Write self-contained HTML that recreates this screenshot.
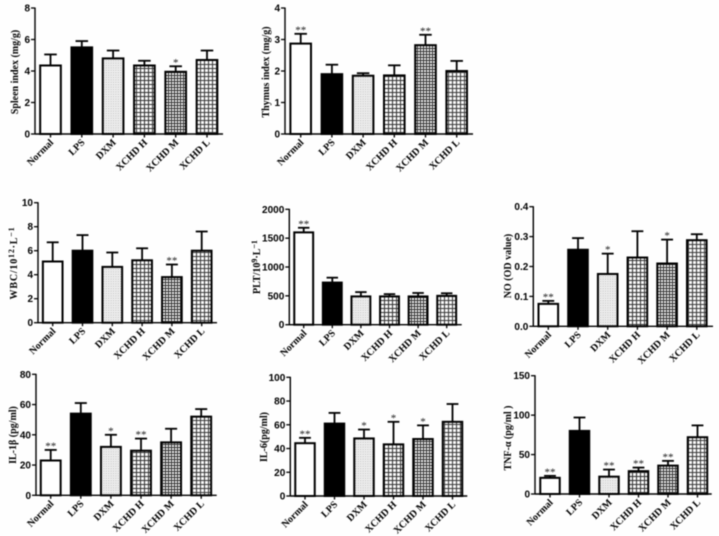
<!DOCTYPE html>
<html lang="en">
<head>
<meta charset="utf-8">
<title>Bar chart panels</title>
<style>
  html, body { margin: 0; padding: 0; background: #fefefe; }
  body { width: 719px; height: 536px; overflow: hidden; }
  #figure { display: block; filter: blur(0.45px); }
  .tick-label { font: bold 10px "Liberation Sans", sans-serif; fill: #000; }
  .category-label { font: bold 10px "Liberation Serif", serif; fill: #000; }
  .axis-title { font: bold 10px "Liberation Serif", serif; fill: #000; }
  .star { font: 11px "Liberation Serif", serif; fill: #111; }
</style>
</head>
<body>
<svg id="figure" xmlns="http://www.w3.org/2000/svg" width="719" height="536" viewBox="0 0 719 536">
  <defs>
    <pattern id="pat-dots" patternUnits="userSpaceOnUse" width="2.4" height="2.4">
      <rect width="2.4" height="2.4" fill="#f8f8f8"/>
      <circle cx="0.7" cy="0.7" r="0.5" fill="#8a8a8a"/>
      <circle cx="1.9" cy="1.9" r="0.35" fill="#b5b5b5"/>
    </pattern>
    <pattern id="pat-grid-h" patternUnits="userSpaceOnUse" width="4" height="4">
      <rect width="4" height="4" fill="#fafafa"/>
      <path d="M0 .5H4M.5 0V4" stroke="#333" stroke-width="1"/>
    </pattern>
    <pattern id="pat-grid-m" patternUnits="userSpaceOnUse" width="3" height="3">
      <rect width="3" height="3" fill="#f6f6f6"/>
      <path d="M0 .5H3M.5 0V3" stroke="#333" stroke-width="1"/>
    </pattern>
    <pattern id="pat-grid-l" patternUnits="userSpaceOnUse" width="4" height="4">
      <rect width="4" height="4" fill="#fafafa"/>
      <path d="M0 .5H4M.5 0V4" stroke="#3a3a3a" stroke-width="1"/>
    </pattern>
  </defs>
</svg>
<script>
const categories = ["Normal", "LPS", "DXM", "XCHD H", "XCHD M", "XCHD L"];

const spleenTicks = ["0", "2", "4", "6", "8"];
const spleenValues = [4.35, 5.5, 4.8, 4.35, 3.95, 4.7];
const spleenUpper = [5.05, 5.9, 5.3, 4.65, 4.3, 5.3];
const spleenStars = ["", "", "", "", "*", ""];

const thymusTicks = ["0", "1", "2", "3", "4"];
const thymusValues = [2.87, 1.9, 1.85, 1.86, 2.82, 2.0];
const thymusUpper = [3.18, 2.2, 1.93, 2.18, 3.15, 2.32];
const thymusStars = ["**", "", "", "", "**", ""];

const wbcTicks = ["0", "2", "4", "6", "8", "10"];
const wbcValues = [5.1, 6.0, 4.65, 5.2, 3.8, 6.0];
const wbcUpper = [6.7, 7.3, 5.85, 6.2, 4.85, 7.6];
const wbcStars = ["", "", "", "", "**", ""];

const pltTicks = ["0", "500", "1000", "1500", "2000"];
const pltValues = [1600, 730, 490, 490, 490, 500];
const pltUpper = [1680, 815, 565, 530, 550, 545];
const pltStars = ["**", "", "", "", "", ""];

const noTicks = ["0.0", "0.1", "0.2", "0.3", "0.4"];
const noValues = [0.075, 0.256, 0.175, 0.23, 0.21, 0.288];
const noUpper = [0.085, 0.295, 0.243, 0.318, 0.29, 0.308];
const noStars = ["**", "", "*", "", "*", ""];

const il1Ticks = ["0", "20", "40", "60", "80"];
const il1Values = [23, 54, 32, 29.5, 35, 52];
const il1Upper = [30, 61, 40, 37.5, 44, 57];
const il1Stars = ["**", "", "*", "**", "", ""];

const il6Ticks = ["0", "20", "40", "60", "80", "100"];
const il6Values = [44.5, 61, 48.5, 43.5, 48, 62.5];
const il6Upper = [49, 70, 56, 62.5, 59.5, 77.5];
const il6Stars = ["**", "", "*", "*", "*", ""];

const tnfTicks = ["0", "50", "100", "150"];
const tnfValues = [20.5, 80, 22, 29, 36, 72];
const tnfUpper = [23, 97, 31, 33.5, 42, 87];
const tnfStars = ["**", "", "**", "**", "**", ""];

const svgNS = "http://www.w3.org/2000/svg";
const figure = document.getElementById("figure");
const barFills = ["#fff", "#000", "url(#pat-dots)", "url(#pat-grid-h)", "url(#pat-grid-m)", "url(#pat-grid-l)"];

function make(parent, tag, props) {
  const node = document.createElementNS(svgNS, tag);
  for (const key in props) node.setAttribute(key, props[key]);
  parent.appendChild(node);
  return node;
}

function drawTitle(group, box, title) {
  const text = make(group, "text", {
    class: "axis-title",
    "text-anchor": "middle",
    transform: "translate(" + box.titleX + "," + box.titleY + ") rotate(-90)"
  });
  if (box.titleSpacing) text.setAttribute("letter-spacing", box.titleSpacing);
  
  
  title.forEach(function (part) {
    const span = make(text, "tspan", {});
    span.textContent = part.text;
    if (part.sup) {
      span.setAttribute("dy", "-3");
      span.setAttribute("font-size", "8");
    } else if (part.after) {
      span.setAttribute("dy", "3");
    }
  });
}

function drawPanel(name, box, ticks, values, upper, stars, title) {
  const group = make(figure, "g", {});
  
  

  const maxTick = parseFloat(ticks[ticks.length - 1]);
  const yScale = function (v) { return box.zero - (v / maxTick) * (box.zero - box.top); };
  const xScale = function (i) { return box.first + i * box.step; };
  const barWidth = box.step * 0.66;
  const capWidth = box.step * 0.4;

  values.forEach(function (value, i) {
    const cx = xScale(i);
    const topY = yScale(value);
    const upperY = yScale(upper[i]);

    const stem = make(group, "line", { x1: cx, x2: cx, y1: topY, y2: upperY, stroke: "#000", "stroke-width": 1.8 });
    
    

    const cap = make(group, "line", { x1: cx - capWidth / 2, x2: cx + capWidth / 2, y1: upperY, y2: upperY, stroke: "#000", "stroke-width": 1.8 });
    
    

    const bar = make(group, "rect", {
      x: cx - barWidth / 2, y: topY, width: barWidth, height: box.zero - topY,
      fill: barFills[i], stroke: "#000", "stroke-width": 2
    });
    
    

    if (stars[i]) {
      const star = make(group, "text", { class: "star", x: cx, y: upperY - 0.5, "text-anchor": "middle" });
      star.textContent = stars[i];
      
      
    }

    const tick = make(group, "line", { x1: cx, x2: cx, y1: box.zero, y2: box.zero + 3.5, stroke: "#000", "stroke-width": 1.3 });
    
    

    const label = make(group, "text", {
      class: "category-label", "text-anchor": "end",
      transform: "translate(" + (cx + 3.5) + "," + (box.zero + 9) + ") rotate(-45)"
    });
    label.textContent = categories[i];
    
    
  });

  const yAxis = make(group, "line", { x1: box.axis, x2: box.axis, y1: box.top - 0.5, y2: box.zero + 0.5, stroke: "#000", "stroke-width": 1.4 });
  
  

  const xAxis = make(group, "line", { x1: box.axis, x2: box.end, y1: box.zero, y2: box.zero, stroke: "#000", "stroke-width": 1.4 });
  
  

  ticks.forEach(function (t) {
    const y = yScale(parseFloat(t));
    const tick = make(group, "line", { x1: box.axis - 4, x2: box.axis, y1: y, y2: y, stroke: "#000", "stroke-width": 1.3 });
    
    

    const label = make(group, "text", { class: "tick-label", x: box.axis - 5, y: y + 3.5, "text-anchor": "end" });
    label.textContent = t;
    
    
  });

  drawTitle(group, box, title);
}

drawPanel("spleen-index", { axis: 35, top: 8, zero: 134, end: 223, first: 50.5, step: 31.3, titleX: 18, titleY: 72 },
  spleenTicks, spleenValues, spleenUpper, spleenStars, [{ text: "Spleen index (mg/g)" }]);

drawPanel("thymus-index", { axis: 285, top: 8, zero: 134, end: 473, first: 300.7, step: 31.2, titleX: 269, titleY: 72 },
  thymusTicks, thymusValues, thymusUpper, thymusStars, [{ text: "Thymus index (mg/g)" }]);

drawPanel("wbc", { axis: 38, top: 202.7, zero: 322.7, end: 217, first: 52.7, step: 29.8, titleX: 17, titleY: 263, titleSpacing: 0.8 },
  wbcTicks, wbcValues, wbcUpper, wbcStars,
  [{ text: "WBC/10" }, { text: "12", sup: true }, { text: "·L", after: true }, { text: "−1", sup: true }]);

drawPanel("plt", { axis: 289.3, top: 209.3, zero: 324.7, end: 461.7, first: 303.7, step: 28.6, titleX: 260, titleY: 267 },
  pltTicks, pltValues, pltUpper, pltStars,
  [{ text: "PLT/10" }, { text: "9", sup: true }, { text: "·L", after: true }, { text: "−1", sup: true }]);

drawPanel("no", { axis: 533.3, top: 206.7, zero: 326.3, end: 713, first: 548.3, step: 29.7, titleX: 511, titleY: 266 },
  noTicks, noValues, noUpper, noStars, [{ text: "NO (OD value)" }]);

drawPanel("il-1-beta", { axis: 36, top: 374.3, zero: 495.3, end: 216.7, first: 50.7, step: 30.1, titleX: 16, titleY: 435 },
  il1Ticks, il1Values, il1Upper, il1Stars, [{ text: "IL-1β (pg/ml)" }]);

drawPanel("il-6", { axis: 290.3, top: 377.3, zero: 496, end: 467.3, first: 305, step: 29.5, titleX: 267, titleY: 437 },
  il6Ticks, il6Values, il6Upper, il6Stars, [{ text: "IL-6(pg/ml)" }]);

drawPanel("tnf-alpha", { axis: 535, top: 375.7, zero: 494, end: 711.7, first: 550, step: 29.5, titleX: 511, titleY: 438 },
  tnfTicks, tnfValues, tnfUpper, tnfStars, [{ text: "TNF-α (pg/ml )" }]);
</script>
</body>
</html>
